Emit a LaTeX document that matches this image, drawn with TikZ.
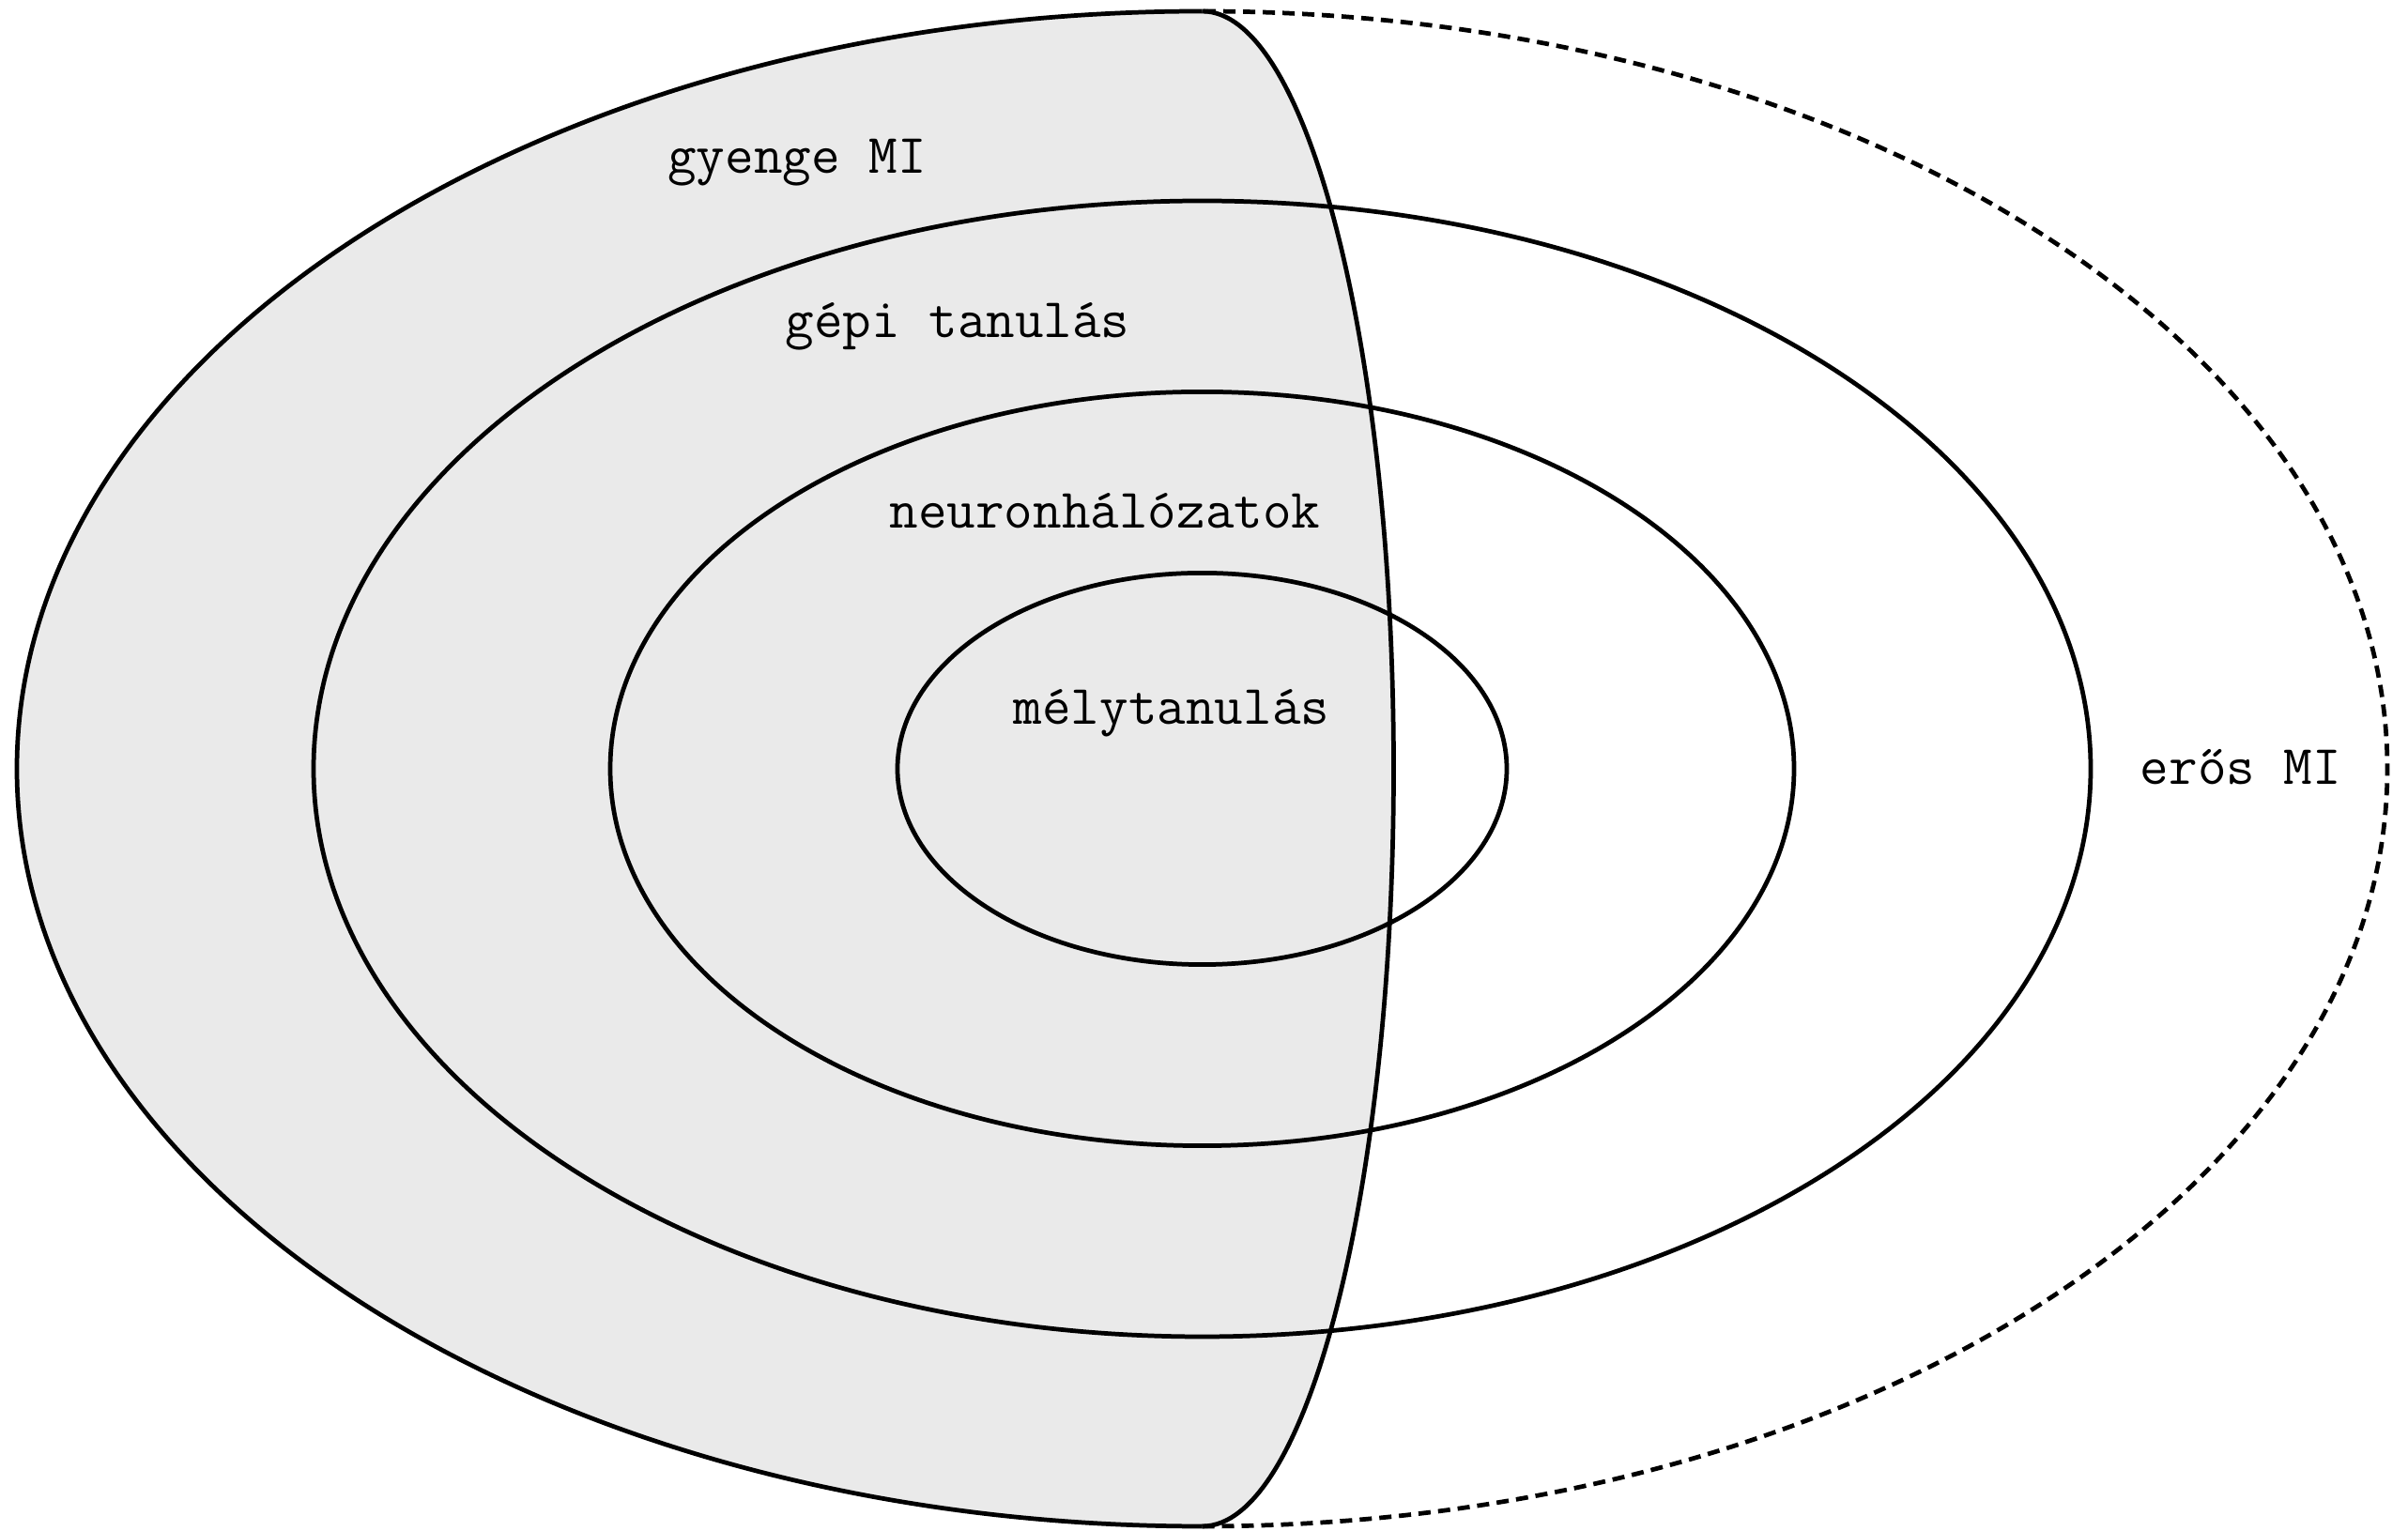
\documentclass[tikz,border=0pt]{standalone}
\usepackage{fontspec}
\usepackage{tikz}
\definecolor{weakgray}{RGB}{234,234,234}

\begin{document}
\begin{tikzpicture}[line width=1.35pt,every node/.style={font=\fontsize{16.9}{18}\ttfamily,anchor=base},
  strongline/.style={dash pattern=on 0.13cm off 0.08cm}]
\useasboundingbox (0,0) rectangle (25.65,16.31);
\coordinate (c) at (12.805,8.12);\coordinate (top) at (12.805,16.19);
% gyenge MI region
\fill[weakgray] (top) arc[start angle=90,end angle=270,x radius=12.625,y radius=8.07] arc[start angle=-90,end angle=90,x radius=2.04,y radius=8.07];
\draw (top) arc[start angle=90,end angle=270,x radius=12.625,y radius=8.07] coordinate (bot);
\draw[strongline] (bot) arc[start angle=-90,end angle=90,x radius=12.625,y radius=8.07];
\draw (bot) arc[start angle=-90,end angle=90,x radius=2.04,y radius=8.07];
% nested sets
\draw (c) ellipse[x radius=9.465,y radius=6.05];
\draw (c) ellipse[x radius=6.305,y radius=4.016];
\draw (c) ellipse[x radius=3.245,y radius=2.086];
\node (weak) at (8.49,14.46){gyenge MI};
\node (ml) at (10.20,12.71){gépi tanulás};
\node (nn) at (11.77,10.68){neuronhálózatok};
\node (dl) at (12.48,8.59){mélytanulás};
\node (strong) at (23.87,7.95){erős MI};
\end{tikzpicture}
\end{document}
